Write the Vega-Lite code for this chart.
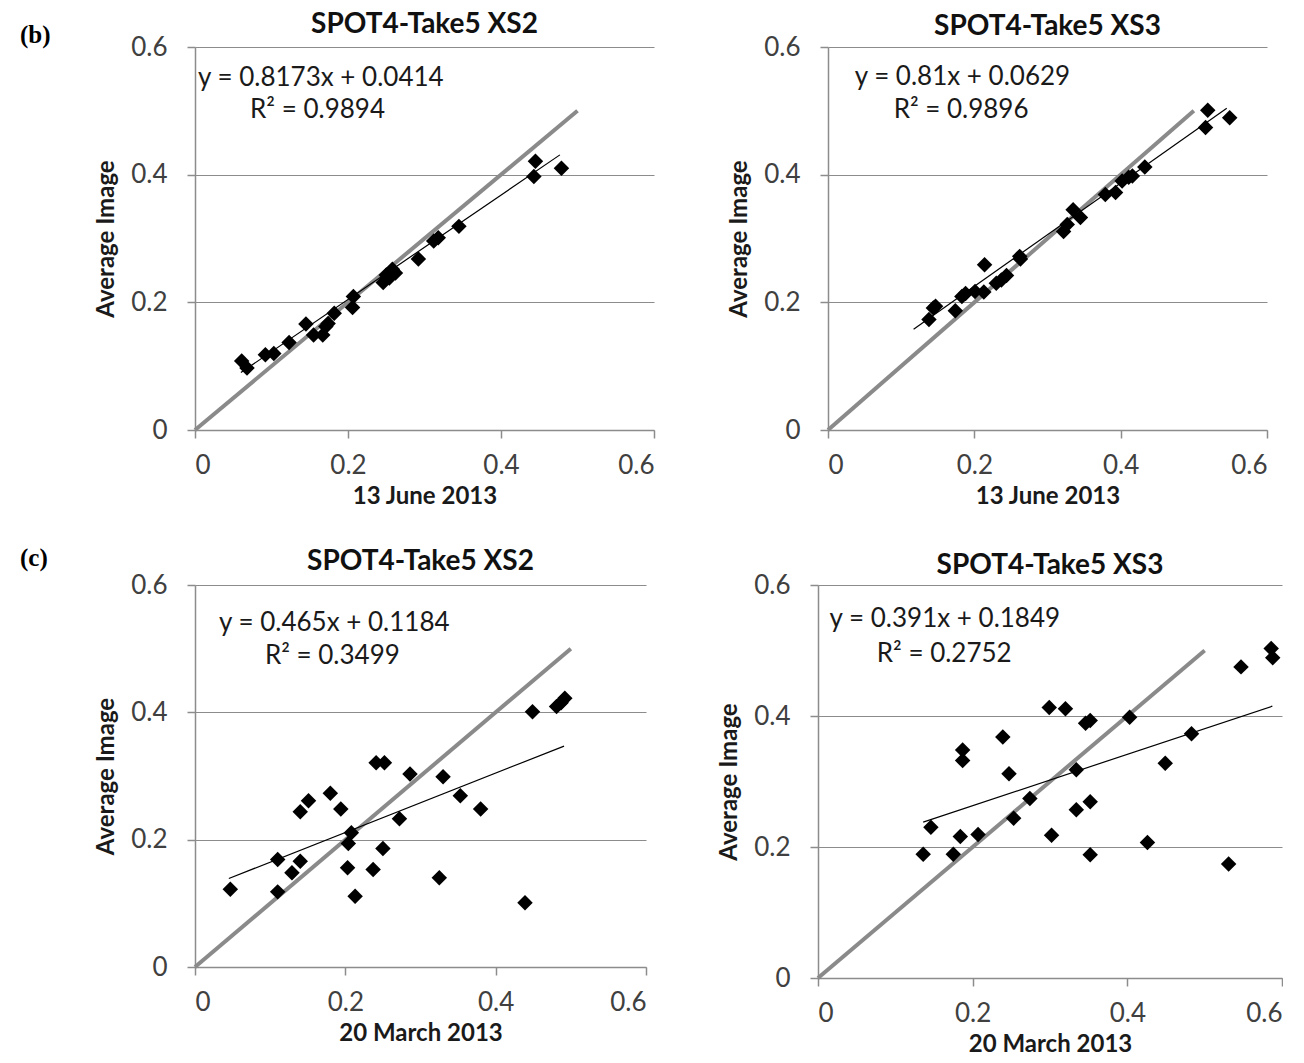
{
  "$schema": "https://vega.github.io/schema/vega-lite/v6.json",
  "background": "white",
  "padding": {"left": 19, "top": 10, "right": 0, "bottom": 0},
  "config": {
    "view": {"stroke": null},
    "font": "Lato",
    "axis": {
      "labelFont": "Lato", "labelFontSize": 26, "labelColor": "#404040",
      "titleFont": "Lato", "titleFontSize": 24, "titleFontWeight": "bold", "titleColor": "#1a1a1a",
      "domainColor": "#8c8c8c", "domainWidth": 1.5, "tickColor": "#8c8c8c", "tickWidth": 1.5, "tickSize": 8,
      "gridColor": "#8c8c8c", "gridWidth": 1.2
    },
    "axisX": {"grid": false, "labelPadding": 14, "titlePadding": 6},
    "axisY": {"grid": true, "labelPadding": 20, "titlePadding": 12},
    "title": {"font": "Lato", "fontSize": 28, "fontWeight": "bold", "color": "#111111"},
    "text": {"font": "Lato", "fontSize": 26, "color": "#1a1a1a", "align": "left", "baseline": "middle"}
  },
  "datasets": {
    "one2one": [{"x": 0, "y": 0}, {"x": 0.5, "y": 0.5}],
    "b2": [
      {"x": 0.061, "y": 0.108}, {"x": 0.068, "y": 0.097}, {"x": 0.092, "y": 0.118}, {"x": 0.103, "y": 0.120},
      {"x": 0.123, "y": 0.137}, {"x": 0.145, "y": 0.166}, {"x": 0.155, "y": 0.149}, {"x": 0.167, "y": 0.149},
      {"x": 0.171, "y": 0.162}, {"x": 0.174, "y": 0.167}, {"x": 0.182, "y": 0.183}, {"x": 0.207, "y": 0.209},
      {"x": 0.206, "y": 0.192}, {"x": 0.246, "y": 0.231}, {"x": 0.250, "y": 0.243}, {"x": 0.254, "y": 0.238},
      {"x": 0.258, "y": 0.252}, {"x": 0.262, "y": 0.246}, {"x": 0.292, "y": 0.268}, {"x": 0.312, "y": 0.296},
      {"x": 0.318, "y": 0.301}, {"x": 0.345, "y": 0.319}, {"x": 0.443, "y": 0.397}, {"x": 0.445, "y": 0.421},
      {"x": 0.479, "y": 0.410}
    ],
    "b2fit": [{"x": 0.06, "y": 0.090}, {"x": 0.477, "y": 0.431}],
    "b3": [
      {"x": 0.138, "y": 0.173}, {"x": 0.144, "y": 0.191}, {"x": 0.147, "y": 0.194}, {"x": 0.174, "y": 0.187},
      {"x": 0.183, "y": 0.209}, {"x": 0.188, "y": 0.214}, {"x": 0.201, "y": 0.217}, {"x": 0.213, "y": 0.216},
      {"x": 0.214, "y": 0.259}, {"x": 0.230, "y": 0.230}, {"x": 0.237, "y": 0.235}, {"x": 0.244, "y": 0.242},
      {"x": 0.262, "y": 0.272}, {"x": 0.263, "y": 0.268}, {"x": 0.322, "y": 0.311}, {"x": 0.327, "y": 0.322},
      {"x": 0.335, "y": 0.345}, {"x": 0.345, "y": 0.333}, {"x": 0.379, "y": 0.369}, {"x": 0.393, "y": 0.372},
      {"x": 0.402, "y": 0.390}, {"x": 0.411, "y": 0.396}, {"x": 0.416, "y": 0.398}, {"x": 0.433, "y": 0.412},
      {"x": 0.516, "y": 0.474}, {"x": 0.519, "y": 0.501}, {"x": 0.549, "y": 0.489}
    ],
    "b3fit": [{"x": 0.117, "y": 0.158}, {"x": 0.545, "y": 0.504}],
    "c2": [
      {"x": 0.047, "y": 0.122}, {"x": 0.110, "y": 0.169}, {"x": 0.110, "y": 0.118}, {"x": 0.129, "y": 0.148},
      {"x": 0.140, "y": 0.166}, {"x": 0.140, "y": 0.244}, {"x": 0.151, "y": 0.261}, {"x": 0.180, "y": 0.273},
      {"x": 0.194, "y": 0.248}, {"x": 0.203, "y": 0.156}, {"x": 0.204, "y": 0.194}, {"x": 0.208, "y": 0.211},
      {"x": 0.213, "y": 0.111}, {"x": 0.237, "y": 0.153}, {"x": 0.241, "y": 0.321}, {"x": 0.252, "y": 0.321},
      {"x": 0.250, "y": 0.186}, {"x": 0.272, "y": 0.233}, {"x": 0.286, "y": 0.303}, {"x": 0.325, "y": 0.140},
      {"x": 0.330, "y": 0.299}, {"x": 0.353, "y": 0.269}, {"x": 0.380, "y": 0.248}, {"x": 0.439, "y": 0.101},
      {"x": 0.449, "y": 0.401}, {"x": 0.481, "y": 0.409}, {"x": 0.487, "y": 0.415}, {"x": 0.492, "y": 0.422}
    ],
    "c2fit": [{"x": 0.045, "y": 0.139}, {"x": 0.491, "y": 0.347}],
    "c3": [
      {"x": 0.136, "y": 0.189}, {"x": 0.146, "y": 0.230}, {"x": 0.175, "y": 0.189}, {"x": 0.184, "y": 0.216},
      {"x": 0.187, "y": 0.348}, {"x": 0.187, "y": 0.332}, {"x": 0.207, "y": 0.219}, {"x": 0.239, "y": 0.368},
      {"x": 0.247, "y": 0.312}, {"x": 0.253, "y": 0.244}, {"x": 0.274, "y": 0.274}, {"x": 0.299, "y": 0.413},
      {"x": 0.302, "y": 0.218}, {"x": 0.320, "y": 0.411}, {"x": 0.334, "y": 0.318}, {"x": 0.334, "y": 0.257},
      {"x": 0.346, "y": 0.389}, {"x": 0.352, "y": 0.393}, {"x": 0.352, "y": 0.269}, {"x": 0.352, "y": 0.188},
      {"x": 0.403, "y": 0.398}, {"x": 0.426, "y": 0.207}, {"x": 0.449, "y": 0.328}, {"x": 0.483, "y": 0.373},
      {"x": 0.531, "y": 0.174}, {"x": 0.547, "y": 0.475}, {"x": 0.586, "y": 0.503}, {"x": 0.588, "y": 0.489}
    ],
    "c3fit": [{"x": 0.136, "y": 0.238}, {"x": 0.5875, "y": 0.415}]
  },
  "columns": 1,
  "spacing": 37,
  "concat": [
    {
      "spacing": 72,
      "hconcat": [
        {
          "width": 459, "height": 383,
          "title": {"text": "SPOT4-Take5 XS2", "offset": -16},
          "layer": [
            {
              "encoding": {
                "x": {"field": "x", "type": "quantitative", "scale": {"domain": [0, 0.6], "nice": false}, "axis": {"values": [0, 0.2, 0.4, 0.6], "format": ".1~f"}, "title": "13 June 2013"},
                "y": {"field": "y", "type": "quantitative", "scale": {"domain": [0, 0.6], "nice": false}, "axis": {"values": [0, 0.2, 0.4, 0.6], "format": ".1~f"}, "title": "Average Image"}
              },
              "layer": [
                {"data": {"name": "one2one"}, "mark": {"type": "line", "color": "#8a8a8a", "strokeWidth": 4}},
                {"data": {"name": "b2fit"}, "mark": {"type": "line", "color": "#000000", "strokeWidth": 1.2}},
                {"data": {"name": "b2"}, "mark": {"type": "point", "shape": "diamond", "filled": true, "color": "#000000", "size": 240, "opacity": 1}}
              ]
            },
            {"data": {"values": [{"label": "y = 0.8173x + 0.0414"}]}, "mark": {"type": "text"}, "encoding": {"x": {"datum": 0.004, "type": "quantitative"}, "y": {"datum": 0.552, "type": "quantitative"}, "text": {"field": "label", "type": "nominal"}}},
            {"data": {"values": [{"label": "R² = 0.9894"}]}, "mark": {"type": "text"}, "encoding": {"x": {"datum": 0.072, "type": "quantitative"}, "y": {"datum": 0.502, "type": "quantitative"}, "text": {"field": "label", "type": "nominal"}}},
            {"data": {"values": [{"label": "(b)"}]}, "mark": {"type": "text", "font": "Liberation Serif", "fontSize": 25, "fontWeight": "bold", "color": "#000000"}, "encoding": {"x": {"datum": -0.2288, "type": "quantitative"}, "y": {"datum": 0.619, "type": "quantitative"}, "text": {"field": "label", "type": "nominal"}}}
          ]
        },
        {
          "width": 439, "height": 383,
          "title": {"text": "SPOT4-Take5  XS3", "offset": -7},
          "layer": [
            {
              "encoding": {
                "x": {"field": "x", "type": "quantitative", "scale": {"domain": [0, 0.6], "nice": false}, "axis": {"values": [0, 0.2, 0.4, 0.6], "format": ".1~f"}, "title": "13 June 2013"},
                "y": {"field": "y", "type": "quantitative", "scale": {"domain": [0, 0.6], "nice": false}, "axis": {"values": [0, 0.2, 0.4, 0.6], "format": ".1~f"}, "title": "Average Image"}
              },
              "layer": [
                {"data": {"name": "one2one"}, "mark": {"type": "line", "color": "#8a8a8a", "strokeWidth": 4}},
                {"data": {"name": "b3fit"}, "mark": {"type": "line", "color": "#000000", "strokeWidth": 1.2}},
                {"data": {"name": "b3"}, "mark": {"type": "point", "shape": "diamond", "filled": true, "color": "#000000", "size": 240, "opacity": 1}}
              ]
            },
            {"data": {"values": [{"label": "y = 0.81x + 0.0629"}]}, "mark": {"type": "text"}, "encoding": {"x": {"datum": 0.0365, "type": "quantitative"}, "y": {"datum": 0.553, "type": "quantitative"}, "text": {"field": "label", "type": "nominal"}}},
            {"data": {"values": [{"label": "R² = 0.9896"}]}, "mark": {"type": "text"}, "encoding": {"x": {"datum": 0.0897, "type": "quantitative"}, "y": {"datum": 0.502, "type": "quantitative"}, "text": {"field": "label", "type": "nominal"}}}
          ]
        }
      ]
    },
    {
      "spacing": 70,
      "hconcat": [
        {
          "width": 451, "height": 382,
          "title": {"text": "SPOT4-Take5  XS2", "offset": -30},
          "layer": [
            {
              "encoding": {
                "x": {"field": "x", "type": "quantitative", "scale": {"domain": [0, 0.6], "nice": false}, "axis": {"values": [0, 0.2, 0.4, 0.6], "format": ".1~f"}, "title": "20 March 2013"},
                "y": {"field": "y", "type": "quantitative", "scale": {"domain": [0, 0.6], "nice": false}, "axis": {"values": [0, 0.2, 0.4, 0.6], "format": ".1~f"}, "title": "Average Image"}
              },
              "layer": [
                {"data": {"name": "one2one"}, "mark": {"type": "line", "color": "#8a8a8a", "strokeWidth": 4}},
                {"data": {"name": "c2fit"}, "mark": {"type": "line", "color": "#000000", "strokeWidth": 1.2}},
                {"data": {"name": "c2"}, "mark": {"type": "point", "shape": "diamond", "filled": true, "color": "#000000", "size": 240, "opacity": 1}}
              ]
            },
            {"data": {"values": [{"label": "y = 0.465x + 0.1184"}]}, "mark": {"type": "text"}, "encoding": {"x": {"datum": 0.032, "type": "quantitative"}, "y": {"datum": 0.541, "type": "quantitative"}, "text": {"field": "label", "type": "nominal"}}},
            {"data": {"values": [{"label": "R² = 0.3499"}]}, "mark": {"type": "text"}, "encoding": {"x": {"datum": 0.093, "type": "quantitative"}, "y": {"datum": 0.489, "type": "quantitative"}, "text": {"field": "label", "type": "nominal"}}},
            {"data": {"values": [{"label": "(c)"}]}, "mark": {"type": "text", "font": "Liberation Serif", "fontSize": 25, "fontWeight": "bold", "color": "#000000"}, "encoding": {"x": {"datum": -0.2328, "type": "quantitative"}, "y": {"datum": 0.6425, "type": "quantitative"}, "text": {"field": "label", "type": "nominal"}}}
          ]
        },
        {
          "width": 464, "height": 393,
          "title": {"text": "SPOT4-Take5  XS3", "offset": -8},
          "layer": [
            {
              "encoding": {
                "x": {"field": "x", "type": "quantitative", "scale": {"domain": [0, 0.6], "nice": false}, "axis": {"values": [0, 0.2, 0.4, 0.6], "format": ".1~f"}, "title": "20 March 2013"},
                "y": {"field": "y", "type": "quantitative", "scale": {"domain": [0, 0.6], "nice": false}, "axis": {"values": [0, 0.2, 0.4, 0.6], "format": ".1~f"}, "title": "Average Image"}
              },
              "layer": [
                {"data": {"name": "one2one"}, "mark": {"type": "line", "color": "#8a8a8a", "strokeWidth": 4}},
                {"data": {"name": "c3fit"}, "mark": {"type": "line", "color": "#000000", "strokeWidth": 1.2}},
                {"data": {"name": "c3"}, "mark": {"type": "point", "shape": "diamond", "filled": true, "color": "#000000", "size": 240, "opacity": 1}}
              ]
            },
            {"data": {"values": [{"label": "y = 0.391x + 0.1849"}]}, "mark": {"type": "text"}, "encoding": {"x": {"datum": 0.015, "type": "quantitative"}, "y": {"datum": 0.548, "type": "quantitative"}, "text": {"field": "label", "type": "nominal"}}},
            {"data": {"values": [{"label": "R² = 0.2752"}]}, "mark": {"type": "text"}, "encoding": {"x": {"datum": 0.076, "type": "quantitative"}, "y": {"datum": 0.495, "type": "quantitative"}, "text": {"field": "label", "type": "nominal"}}}
          ]
        }
      ]
    }
  ]
}
